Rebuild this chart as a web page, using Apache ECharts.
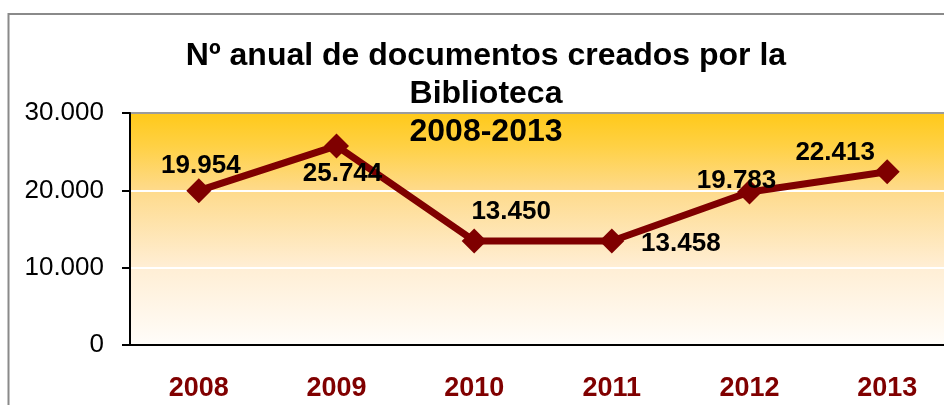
<!DOCTYPE html>
<html>
<head>
<meta charset="utf-8">
<script src="https://cdn.jsdelivr.net/npm/echarts@6/dist/echarts.min.js"></script>
<style>
  html, body { margin: 0; padding: 0; background: #fff; }
  #chart { width: 944px; height: 405px; }
</style>
</head>
<body>
<div id="chart"></div>
<script>
// datos
var years = ['2008', '2009', '2010', '2011', '2012', '2013'];
var documentos = [19954, 25744, 13450, 13458, 19783, 22413];
var yMin = 0, yMax = 30000, yStep = 10000;

// desplazamiento de cada etiqueta respecto a su punto (px)
var labelOffsets = [[2, -25], [6, 28], [37, -29], [69, 3], [-13, -11], [-52, -19]];

var font = '"Liberation Sans", Arial, sans-serif';

// separador de miles con punto
function fmt(v) {
  return String(v).replace(/\B(?=(\d{3})+(?!\d))/g, '.');
}

var seriesData = documentos.map(function (v, i) {
  return { value: v, label: { offset: labelOffsets[i] } };
});

var chart = echarts.init(document.getElementById('chart'));
chart.setOption({
  animation: false,
  title: {
    text: 'Nº anual de documentos creados por la\nBiblioteca\n2008-2013',
    left: 486,
    top: 37,
    padding: 0,
    textAlign: 'center',
    textStyle: {
      fontFamily: font,
      fontSize: 32,
      fontWeight: 'bold',
      color: '#000',
      lineHeight: 38
    },
    z: 10
  },
  graphic: [{
    type: 'rect',
    shape: { x: 8.5, y: 14, width: 1000, height: 1000 },
    style: { fill: 'none', stroke: '#8a8a8a', lineWidth: 2 },
    silent: true,
    z: -1
  }],
  grid: {
    left: 130,
    top: 113,
    width: 826,
    bottom: 60,
    outerBoundsMode: 'none',
    containLabel: false,
    show: true,
    borderWidth: 2,
    borderColor: '#9c9c9c',
    backgroundColor: new echarts.graphic.LinearGradient(0, 0, 0, 1, [
      { offset: 0, color: '#FFC918' },
      { offset: 0.15, color: '#FFD146' },
      { offset: 0.33, color: '#FEDA8A' },
      { offset: 0.66, color: '#FFEED4' },
      { offset: 1, color: '#FFFDFA' }
    ])
  },
  xAxis: {
    type: 'category',
    data: years,
    boundaryGap: true,
    axisLine: { lineStyle: { color: '#000', width: 2 } },
    axisTick: { length: 8, lineStyle: { color: '#000', width: 2 } },
    axisLabel: {
      margin: 30,
      fontFamily: font,
      fontSize: 27,
      fontWeight: 'bold',
      color: '#800000'
    },
    splitLine: { show: false }
  },
  yAxis: {
    type: 'value',
    min: yMin,
    max: yMax,
    interval: yStep,
    axisLine: { show: true, lineStyle: { color: '#000', width: 2 } },
    axisTick: { show: true, length: 8, lineStyle: { color: '#000', width: 2 } },
    axisLabel: {
      margin: 26,
      fontFamily: font,
      fontSize: 26,
      color: '#000',
      formatter: fmt
    },
    splitLine: {
      show: true,
      showMinLine: false,
      showMaxLine: false,
      lineStyle: { color: '#ffffff', width: 2 }
    }
  },
  series: [{
    type: 'line',
    data: seriesData,
    symbol: 'diamond',
    symbolSize: 25,
    itemStyle: { color: '#7f0000' },
    lineStyle: { color: '#7f0000', width: 7 },
    label: {
      show: true,
      position: 'inside',
      fontFamily: font,
      fontSize: 26,
      fontWeight: 'bold',
      color: '#000',
      formatter: function (p) { return fmt(p.value); }
    },
    z: 5
  }]
});
</script>
</body>
</html>
